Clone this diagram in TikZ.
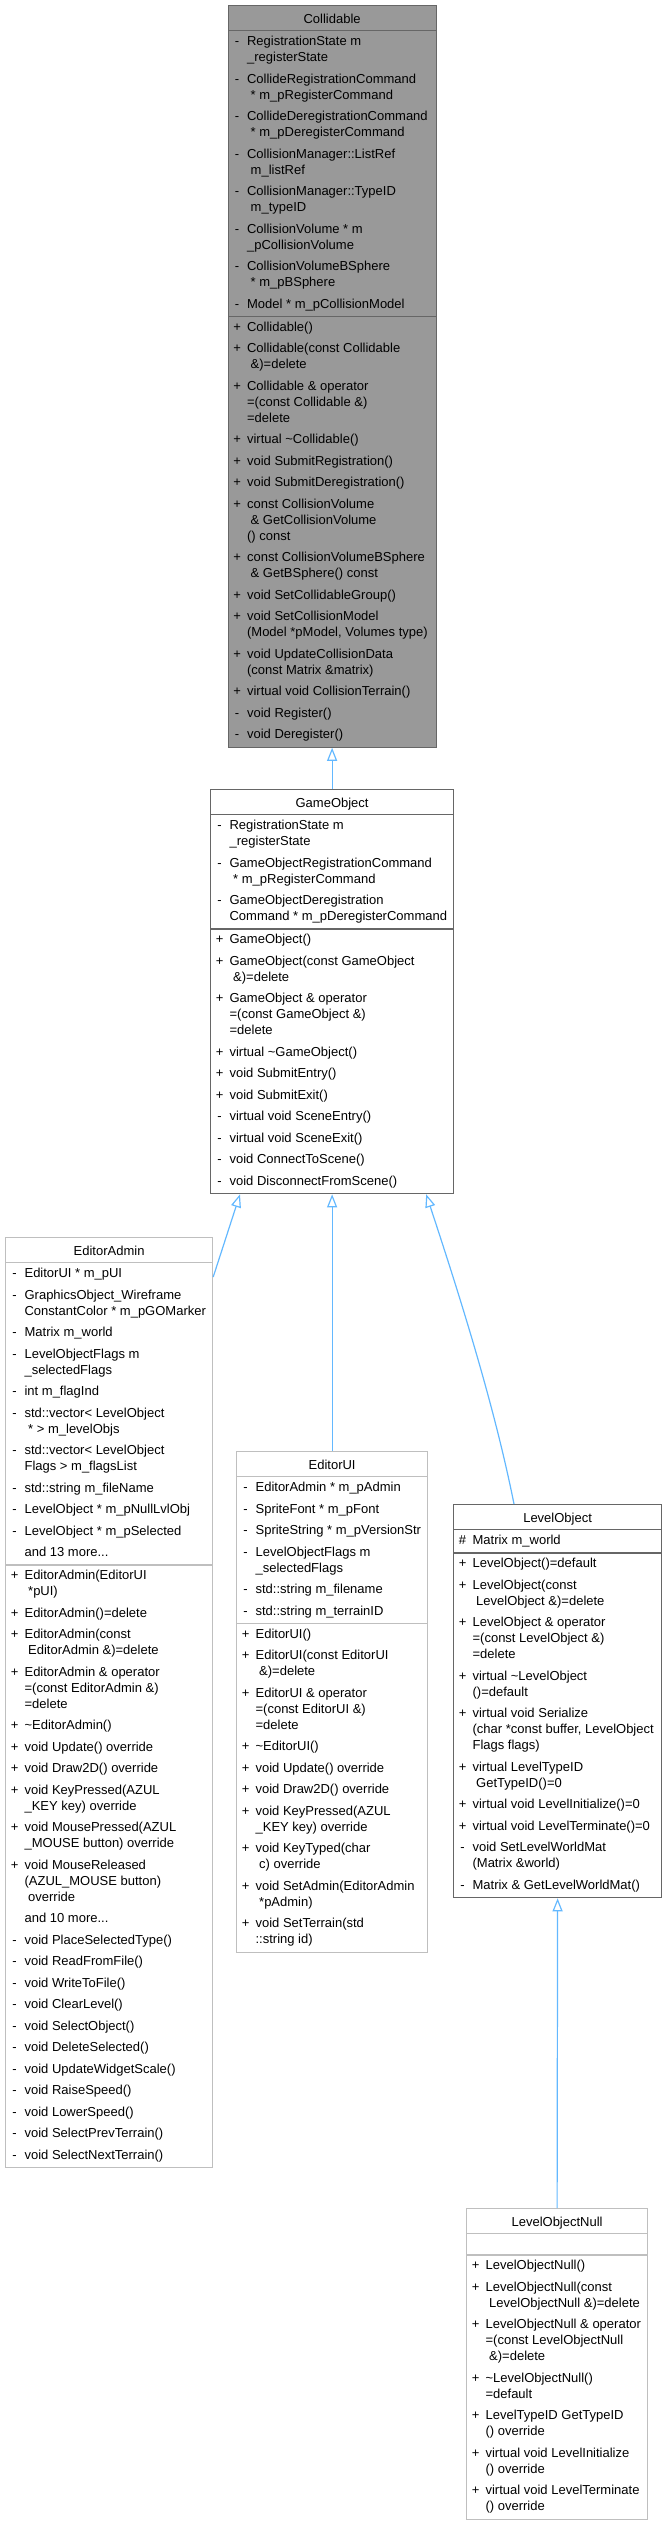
\documentclass[tikz,border=0pt]{standalone}
\usepackage{fontspec}
\setmainfont{Liberation Sans}
\usepackage{array}
\usetikzlibrary{shapes.multipart, arrows.meta, calc}

\definecolor{basefill}{HTML}{999999}
\definecolor{darkedge}{HTML}{666666}
\definecolor{lightedge}{HTML}{BFBFBF}
\definecolor{arrowblue}{HTML}{63B8FF}

\newcolumntype{E}{@{\hspace{3pt}}w{c}{12pt}@{\hspace{4pt}}l@{}}
\newcommand{\umlname}[2]{\makebox[#1pt]{\rule[-3.4pt]{0pt}{18pt}#2}}
\newcommand{\umlrows}[2]{\makebox[#1pt][l]{\begin{tabular}{E}#2\end{tabular}}}
\newcommand{\gapline}{\\[5.5pt]}

\begin{document}
\begin{tikzpicture}[x=1pt, y=-1pt,
	umlclass/.style={rectangle split, rectangle split parts=3, draw=darkedge, fill=white,
		line width=1.2pt, inner xsep=0pt, inner ysep=3pt, anchor=north west,
		font=\fontsize{13}{16}\selectfont},
	inherit/.style={draw=arrowblue, line width=1.2pt,
		-{Triangle[open, length=13pt, width=10pt]}}]
	\useasboundingbox (0,0) rectangle (663,2523);
	% classes
	\node[umlclass, fill=basefill] (collidable) at (227.5,5) {\umlname{208}{Collidable}%
\nodepart{two}\umlrows{208}{%
- & RegistrationState m\\ & \_registerState\gapline
- & CollideRegistrationCommand\\ & \ * m\_pRegisterCommand\gapline
- & CollideDeregistrationCommand\\ & \ * m\_pDeregisterCommand\gapline
- & CollisionManager::ListRef\\ & \ m\_listRef\gapline
- & CollisionManager::TypeID\\ & \ m\_typeID\gapline
- & CollisionVolume * m\\ & \_pCollisionVolume\gapline
- & CollisionVolumeBSphere\\ & \ * m\_pBSphere\gapline
- & Model * m\_pCollisionModel}%
\nodepart{three}\umlrows{208}{%
+ & Collidable()\gapline
+ & Collidable(const Collidable\\ & \ \&)=delete\gapline
+ & Collidable \& operator\\ & =(const Collidable \&)\\ & =delete\gapline
+ & virtual \textasciitilde Collidable()\gapline
+ & void SubmitRegistration()\gapline
+ & void SubmitDeregistration()\gapline
+ & const CollisionVolume\\ & \ \& GetCollisionVolume\\ & () const\gapline
+ & const CollisionVolumeBSphere\\ & \ \& GetBSphere() const\gapline
+ & void SetCollidableGroup()\gapline
+ & void SetCollisionModel\\ & (Model *pModel, Volumes type)\gapline
+ & void UpdateCollisionData\\ & (const Matrix \&matrix)\gapline
+ & virtual void CollisionTerrain()\gapline
- & void Register()\gapline
- & void Deregister()}};
	\node[umlclass] (gameobject) at (210,789) {\umlname{243}{GameObject}%
\nodepart{two}\umlrows{243}{%
- & RegistrationState m\\ & \_registerState\gapline
- & GameObjectRegistrationCommand\\ & \ * m\_pRegisterCommand\gapline
- & GameObjectDeregistration\\ & Command * m\_pDeregisterCommand}%
\nodepart{three}\umlrows{243}{%
+ & GameObject()\gapline
+ & GameObject(const GameObject\\ & \ \&)=delete\gapline
+ & GameObject \& operator\\ & =(const GameObject \&)\\ & =delete\gapline
+ & virtual \textasciitilde GameObject()\gapline
+ & void SubmitEntry()\gapline
+ & void SubmitExit()\gapline
- & virtual void SceneEntry()\gapline
- & virtual void SceneExit()\gapline
- & void ConnectToScene()\gapline
- & void DisconnectFromScene()}};
	\node[umlclass, draw=lightedge] (editoradmin) at (5,1237) {\umlname{207}{EditorAdmin}%
\nodepart{two}\umlrows{207}{%
- & EditorUI * m\_pUI\gapline
- & GraphicsObject\_Wireframe\\ & ConstantColor * m\_pGOMarker\gapline
- & Matrix m\_world\gapline
- & LevelObjectFlags m\\ & \_selectedFlags\gapline
- & int m\_flagInd\gapline
- & std::vector< LevelObject\\ & \ * > m\_levelObjs\gapline
- & std::vector< LevelObject\\ & Flags > m\_flagsList\gapline
- & std::string m\_fileName\gapline
- & LevelObject * m\_pNullLvlObj\gapline
- & LevelObject * m\_pSelected\gapline
  & and 13 more...}%
\nodepart{three}\umlrows{207}{%
+ & EditorAdmin(EditorUI\\ & \ *pUI)\gapline
+ & EditorAdmin()=delete\gapline
+ & EditorAdmin(const\\ & \ EditorAdmin \&)=delete\gapline
+ & EditorAdmin \& operator\\ & =(const EditorAdmin \&)\\ & =delete\gapline
+ & \textasciitilde EditorAdmin()\gapline
+ & void Update() override\gapline
+ & void Draw2D() override\gapline
+ & void KeyPressed(AZUL\\ & \_KEY key) override\gapline
+ & void MousePressed(AZUL\\ & \_MOUSE button) override\gapline
+ & void MouseReleased\\ & (AZUL\_MOUSE button)\\ & \ override\gapline
  & and 10 more...\gapline
- & void PlaceSelectedType()\gapline
- & void ReadFromFile()\gapline
- & void WriteToFile()\gapline
- & void ClearLevel()\gapline
- & void SelectObject()\gapline
- & void DeleteSelected()\gapline
- & void UpdateWidgetScale()\gapline
- & void RaiseSpeed()\gapline
- & void LowerSpeed()\gapline
- & void SelectPrevTerrain()\gapline
- & void SelectNextTerrain()}};
	\node[umlclass, draw=lightedge] (editorui) at (236,1451) {\umlname{191}{EditorUI}%
\nodepart{two}\umlrows{191}{%
- & EditorAdmin * m\_pAdmin\gapline
- & SpriteFont * m\_pFont\gapline
- & SpriteString * m\_pVersionStr\gapline
- & LevelObjectFlags m\\ & \_selectedFlags\gapline
- & std::string m\_filename\gapline
- & std::string m\_terrainID}%
\nodepart{three}\umlrows{191}{%
+ & EditorUI()\gapline
+ & EditorUI(const EditorUI\\ & \ \&)=delete\gapline
+ & EditorUI \& operator\\ & =(const EditorUI \&)\\ & =delete\gapline
+ & \textasciitilde EditorUI()\gapline
+ & void Update() override\gapline
+ & void Draw2D() override\gapline
+ & void KeyPressed(AZUL\\ & \_KEY key) override\gapline
+ & void KeyTyped(char\\ & \ c) override\gapline
+ & void SetAdmin(EditorAdmin\\ & \ *pAdmin)\gapline
+ & void SetTerrain(std\\ & ::string id)}};
	\node[umlclass] (levelobject) at (453,1504) {\umlname{208}{LevelObject}%
\nodepart{two}\umlrows{208}{%
\# & Matrix m\_world}%
\nodepart{three}\umlrows{208}{%
+ & LevelObject()=default\gapline
+ & LevelObject(const\\ & \ LevelObject \&)=delete\gapline
+ & LevelObject \& operator\\ & =(const LevelObject \&)\\ & =delete\gapline
+ & virtual \textasciitilde LevelObject\\ & ()=default\gapline
+ & virtual void Serialize\\ & (char *const buffer, LevelObject\\ & Flags flags)\gapline
+ & virtual LevelTypeID\\ & \ GetTypeID()=0\gapline
+ & virtual void LevelInitialize()=0\gapline
+ & virtual void LevelTerminate()=0\gapline
- & void SetLevelWorldMat\\ & (Matrix \&world)\gapline
- & Matrix \& GetLevelWorldMat()}};
	\node[umlclass, draw=lightedge] (levelobjectnull) at (466,2208) {\umlname{181}{LevelObjectNull}%
\nodepart{two}\rule{0pt}{14pt}%
\nodepart{three}\umlrows{181}{%
+ & LevelObjectNull()\gapline
+ & LevelObjectNull(const\\ & \ LevelObjectNull \&)=delete\gapline
+ & LevelObjectNull \& operator\\ & =(const LevelObjectNull\\ & \ \&)=delete\gapline
+ & \textasciitilde LevelObjectNull()\\ & =default\gapline
+ & LevelTypeID GetTypeID\\ & () override\gapline
+ & virtual void LevelInitialize\\ & () override\gapline
+ & virtual void LevelTerminate\\ & () override}};
	% inheritance
	\draw[inherit] (gameobject.north) -- (collidable.south);
	\draw[inherit] ($(editoradmin.north east)+(0,40)$) -- ($(gameobject.south west)+(30,0)$);
	\draw[inherit] (editorui.north) -- (gameobject.south);
	\draw[inherit] ($(levelobject.north west)+(61,0)$) .. controls +(-20,-100) and +(33,100) .. ($(gameobject.south east)+(-28,0)$);
	\draw[inherit] (levelobjectnull.north) -- (levelobject.south);
\end{tikzpicture}
\end{document}
